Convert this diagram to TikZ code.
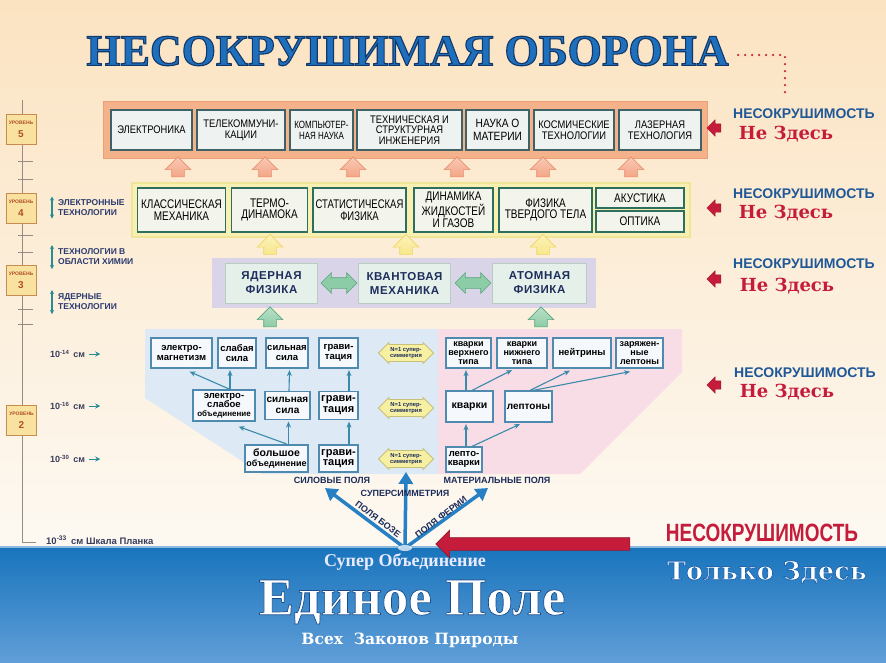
\documentclass[tikz,border=0pt]{standalone}
\usepackage{fontspec}
\setmainfont{Liberation Serif}
\setsansfont{Liberation Sans}
\newfontfamily\narA[FakeStretch=0.85]{Liberation Sans}
\newfontfamily\narB[FakeStretch=0.8]{Liberation Sans}
\newfontfamily\narC[FakeStretch=0.76]{Liberation Sans}
\newfontfamily\spc[LetterSpace=5]{Liberation Sans}
\newfontfamily\dvs{DejaVu Serif}
\usetikzlibrary{shapes.arrows,arrows.meta,calc}
\newcommand\outlinetext[2]{\special{pdf:literal direct 2 Tr #1}#2\special{pdf:literal direct 0 Tr}}
\definecolor{bgtop}{RGB}{251,227,193}
\definecolor{bgbot}{RGB}{253,249,242}
\definecolor{bandtop}{RGB}{24,116,188}
\definecolor{bandbot}{RGB}{96,158,216}
\definecolor{titleblue}{RGB}{30,112,188}
\definecolor{dotred}{RGB}{200,40,50}
\definecolor{f5fill}{RGB}{243,178,138}
\definecolor{f5edge}{RGB}{236,160,120}
\definecolor{b5edge}{RGB}{62,98,102}
\definecolor{b5fill}{RGB}{238,242,240}
\definecolor{f4fill}{RGB}{248,240,178}
\definecolor{f4edge}{RGB}{240,228,150}
\definecolor{b4edge}{RGB}{46,110,94}
\definecolor{b4fill}{RGB}{243,245,236}
\definecolor{f3fill}{RGB}{218,212,232}
\definecolor{b3fill}{RGB}{229,240,234}
\definecolor{b3edge}{RGB}{184,204,194}
\definecolor{b3text}{RGB}{30,46,92}
\definecolor{leftreg}{RGB}{221,233,245}
\definecolor{rightreg}{RGB}{249,221,230}
\definecolor{bledge}{RGB}{80,138,174}
\definecolor{connc}{RGB}{58,138,170}
\definecolor{nfill}{RGB}{247,239,162}
\definecolor{nedge}{RGB}{200,192,120}
\definecolor{fanblue}{RGB}{40,128,196}
\definecolor{navy}{RGB}{28,44,90}
\definecolor{nesblue}{RGB}{30,88,152}
\definecolor{nered}{RGB}{196,28,58}
\definecolor{oarrow}{RGB}{244,166,134}
\definecolor{oarrowedge}{RGB}{232,140,110}
\definecolor{yarrow}{RGB}{248,232,140}
\definecolor{yarrowedge}{RGB}{238,214,100}
\definecolor{garrow}{RGB}{140,204,166}
\definecolor{garrowedge}{RGB}{90,166,126}
\definecolor{lvlfill}{RGB}{249,226,160}
\definecolor{lvledge}{RGB}{200,140,80}
\definecolor{lvltext}{RGB}{176,80,40}
\definecolor{scalegray}{RGB}{150,140,130}
\definecolor{techtext}{RGB}{44,60,112}
\definecolor{tealarrow}{RGB}{40,140,150}
\definecolor{scaletext}{RGB}{58,62,92}
\tikzset{
 b5/.style={draw=b5edge, line width=1.5, fill=b5fill, inner sep=0.5, align=center,
   font=\narA\fontsize{11}{11}\selectfont, text=black},
 b4/.style={draw=b4edge, line width=1.5, fill=b4fill, inner sep=0.5, align=center,
   font=\narB\fontsize{12.5}{11.5}\selectfont, text=black},
 b3/.style={draw=b3edge, line width=1, fill=b3fill, inner sep=0.5, align=center,
   font=\spc\bfseries\fontsize{11.5}{14}\selectfont, text=b3text},
 bl/.style={draw=bledge, line width=1.2, fill=white!70!leftreg, inner sep=0.5, align=center,
   font=\sffamily\bfseries\fontsize{9.5}{9.5}\selectfont, text=black},
 conn/.style={draw=connc, line width=1.1, -{Stealth[length=6pt,width=5pt]}},
 nsym/.style={double arrow, draw=nedge, fill=nfill, line width=0.8, minimum height=55,
   minimum width=21, double arrow head extend=1.5, inner sep=0.5, align=center,
   font=\sffamily\bfseries\fontsize{5.8}{6}\selectfont, text=navy},
 fanarr/.style={draw=fanblue, line width=3.5, -{Triangle[length=12pt,width=14pt]}},
 fanlbl/.style={font=\sffamily\bfseries\fontsize{9}{9}\selectfont, text=navy, inner sep=0.5},
 blockup/.style={single arrow, shape border rotate=90, minimum height=20, minimum width=25,
   single arrow head extend=6.5, single arrow head indent=0, inner sep=6, line width=0.6},
 oarr/.style={blockup, top color=oarrow!60!white, bottom color=oarrow, draw=oarrowedge},
 yarr/.style={blockup, top color=yarrow!60!white, bottom color=yarrow, draw=yarrowedge},
 garr/.style={blockup, top color=garrow!60!white, bottom color=garrow, draw=garrowedge},
 gdarr/.style={double arrow, minimum height=36, minimum width=20, double arrow head extend=5,
   inner sep=5, fill=garrow, draw=garrowedge, line width=0.6},
 sred/.style={single arrow, shape border rotate=180, minimum height=14, minimum width=16,
   single arrow head extend=4, inner sep=4, fill=nered, draw=nered!80!black, line width=0.4},
 nes/.style={font=\sffamily\bfseries\fontsize{14}{14}\selectfont, text=nesblue, inner sep=0},
 nez/.style={font=\dvs\bfseries\fontsize{18}{18}\selectfont, text=nered, inner sep=0},
 lvl/.style={draw=lvledge, fill=lvlfill, line width=0.7, minimum width=30, minimum height=30,
   inner sep=0, align=center, font=\sffamily\bfseries, text=lvltext},
 tech/.style={font=\sffamily\bfseries\fontsize{8.5}{10}\selectfont, text=techtext, align=left,
   inner sep=0, anchor=west},
 techarr/.style={draw=tealarrow, line width=1.1, {Stealth[length=4pt,width=4pt]}-{Stealth[length=4pt,width=4pt]}},
 scl/.style={font=\sffamily\bfseries\fontsize{9}{9}\selectfont, text=scaletext, inner sep=0, anchor=west},
 sarr/.style={draw=tealarrow, line width=1, -{Stealth[length=5pt,width=5pt]}},
 scaleline/.style={draw=scalegray, line width=0.6},
 tzs/.style={font=\dvs\bfseries\fontsize{25.5}{25.5}\selectfont, inner sep=0},
}
\begin{document}
\begin{tikzpicture}[x=1pt,y=-1pt]
\useasboundingbox (0,0) rectangle (886,662);
% background
\fill[top color=bgtop, bottom color=bgbot] (0,0) rectangle (886,547);
\fill[top color=bandtop, bottom color=bandbot] (0,546) rectangle (886,662);
\draw[white, opacity=0.5, line width=2] (0,547) -- (886,547);

% title
\node[font=\bfseries\fontsize{44}{44}\selectfont, text=titleblue] (title) at (407.5,51)
  {\outlinetext{1.1 w 0.07 0.22 0.42 RG}{НЕСОКРУШИМАЯ ОБОРОНА}};
\coordinate (dA) at (785,55);
\coordinate (dB) at (785,97);
\draw[dotred, line width=2.6, dash pattern=on 0pt off 7pt, line cap=round] ($(title.east)+(6,4)$) -- (dA) -- (dB);

% left scale
\draw[scaleline] (22,100) -- (22,542) -- (36,542);
\foreach \t in {161,179,235,252,309,324} \draw[scaleline] (18,\t) -- (33,\t);
\node[lvl] (lv5) at (21,129) {{\fontsize{5}{5}\selectfont УРОВЕНЬ}\\[1pt]{\fontsize{10}{10}\selectfont 5}};
\node[lvl] (lv4) at (21,208) {{\fontsize{5}{5}\selectfont УРОВЕНЬ}\\[1pt]{\fontsize{10}{10}\selectfont 4}};
\node[lvl] (lv3) at (21,280) {{\fontsize{5}{5}\selectfont УРОВЕНЬ}\\[1pt]{\fontsize{10}{10}\selectfont 3}};
\node[lvl] (lv2) at (21.5,420) {{\fontsize{5}{5}\selectfont УРОВЕНЬ}\\[1pt]{\fontsize{10}{10}\selectfont 2}};

\node[tech] (t1) at (58,207.5) {ЭЛЕКТРОННЫЕ\\ТЕХНОЛОГИИ};
\node[tech] (t2) at (58,257) {ТЕХНОЛОГИИ В\\ОБЛАСТИ ХИМИИ};
\node[tech] (t3) at (58,302) {ЯДЕРНЫЕ\\ТЕХНОЛОГИИ};
\draw[techarr] ($(t1.west)+(-6,-11)$) -- ($(t1.west)+(-6,11)$);
\draw[techarr] ($(t2.west)+(-6,-12)$) -- ($(t2.west)+(-6,12)$);
\draw[techarr] ($(t3.west)+(-6,-12)$) -- ($(t3.west)+(-6,12)$);

\node[scl] (s14) at (50,354) {10\textsuperscript{-14}\, см};
\node[scl] (s16) at (50,406) {10\textsuperscript{-16}\, см};
\node[scl] (s30) at (50,459) {10\textsuperscript{-30}\, см};
\node[scl, font=\sffamily\bfseries\fontsize{9.5}{9.5}\selectfont] (s33) at (46,540) {10\textsuperscript{-33}\, см Шкала Планка};
\draw[sarr] ($(s14.east)+(4,0)$) -- ++(11,0);
\draw[sarr] ($(s16.east)+(4,0)$) -- ++(11,0);
\draw[sarr] ($(s30.east)+(4,0)$) -- ++(11,0);

% level 5
\draw[fill=f5fill, draw=f5edge, line width=1] (103,101) rectangle (707,158);
\node[b5, minimum width=81, minimum height=40] (e1) at (151.5,130) {ЭЛЕКТРОНИКА};
\node[b5, minimum width=88, minimum height=40] (e2) at (241,130) {ТЕЛЕКОММУНИ-\\КАЦИИ};
\node[b5, minimum width=63, minimum height=40, font=\narC\fontsize{10.5}{11}\selectfont] (e3) at (321.5,130) {КОМПЬЮТЕР-\\НАЯ НАУКА};
\node[b5, minimum width=105, minimum height=40, font=\narA\fontsize{11}{10.5}\selectfont] (e4) at (409.5,130) {ТЕХНИЧЕСКАЯ И\\СТРУКТУРНАЯ\\ИНЖЕНЕРИЯ};
\node[b5, minimum width=63, minimum height=40, font=\narA\fontsize{12}{12.5}\selectfont] (e5) at (497.5,130) {НАУКА О\\МАТЕРИИ};
\node[b5, minimum width=80, minimum height=40] (e6) at (574,130) {КОСМИЧЕСКИЕ\\ТЕХНОЛОГИИ};
\node[b5, minimum width=82, minimum height=40] (e7) at (660,130) {ЛАЗЕРНАЯ\\ТЕХНОЛОГИЯ};

% orange arrows
\node[oarr] (o1) at (178,170) {};
\node[oarr] (o2) at (265,170) {};
\node[oarr] (o3) at (353,170) {};
\node[oarr] (o4) at (457,170) {};
\node[oarr] (o5) at (543,170) {};
\node[oarr] (o6) at (631,170) {};

% level 4
\draw[fill=f4fill, draw=f4edge, line width=1.5] (132,183) rectangle (690,237);
\node[b4, minimum width=88, minimum height=44] (c1) at (181.5,210) {КЛАССИЧЕСКАЯ\\МЕХАНИКА};
\node[b4, minimum width=76, minimum height=44] (c2) at (269.5,210) {ТЕРМО-\\ДИНАМОКА};
\node[b4, minimum width=93, minimum height=44, font=\narC\fontsize{12.5}{11.5}\selectfont] (c3) at (359.5,210) {СТАТИСТИЧЕСКАЯ\\ФИЗИКА};
\node[b4, minimum width=79, minimum height=44, font=\narB\fontsize{12.5}{10}\selectfont] (c4) at (453.5,210) {ДИНАМИКА\\ЖИДКОСТЕЙ\\И ГАЗОВ};
\node[b4, minimum width=93, minimum height=44] (c5) at (545.5,210) {ФИЗИКА\\ТВЕРДОГО ТЕЛА};
\node[b4, minimum width=88, minimum height=20] (c6) at (640,198) {АКУСТИКА};
\node[b4, minimum width=88, minimum height=21] (c7) at (640,221.5) {ОПТИКА};

% yellow arrows
\node[yarr] (y1) at (270,247.5) {};
\node[yarr] (y2) at (406,247.5) {};
\node[yarr] (y3) at (543,247.5) {};

% level 3
\fill[f3fill] (212,258) rectangle (596,308);
\node[b3, minimum width=92, minimum height=40] (p1) at (271.5,283) {ЯДЕРНАЯ\\ФИЗИКА};
\node[b3, minimum width=92, minimum height=40] (p2) at (404.5,283) {КВАНТОВАЯ\\МЕХАНИКА};
\node[b3, minimum width=94, minimum height=40] (p3) at (539.5,283) {АТОМНАЯ\\ФИЗИКА};
\node[gdarr] (d1) at (339,283) {};
\node[gdarr] (d2) at (473,283) {};

% green arrows
\node[garr] (g1) at (270,320) {};
\node[garr] (g2) at (541,320) {};

% lower regions
\fill[leftreg] (145,329) -- (438,329) -- (438,474) -- (262,474) -- (145,398) -- cycle;
\fill[rightreg] (438,329) -- (682,329) -- (682,372) -- (580,474) -- (438,474) -- cycle;

% forces
\node[bl, minimum width=61, minimum height=30] (em) at (181.5,353) {электро-\\магнетизм};
\node[bl, minimum width=38, minimum height=30] (ws) at (237,353) {слабая\\сила};
\node[bl, minimum width=42, minimum height=30] (ss1) at (287,353) {сильная\\сила};
\node[bl, minimum width=39, minimum height=30] (gr1) at (338.5,353) {грави-\\тация};
\node[bl, minimum width=62, minimum height=31, font=\sffamily\bfseries\fontsize{9.5}{9}\selectfont] (ew) at (224,405.5) {электро-\\слабое\\{\fontsize{8}{8}\selectfont объединение}};
\node[bl, minimum width=45, minimum height=28, font=\sffamily\bfseries\fontsize{10}{10.5}\selectfont] (ss2) at (287.5,405.5) {сильная\\сила};
\node[bl, minimum width=39, minimum height=28, font=\sffamily\bfseries\fontsize{11}{11}\selectfont] (gr2) at (338.5,405.5) {грави-\\тация};
\node[bl, minimum width=63, minimum height=27, font=\sffamily\bfseries\fontsize{10.5}{10}\selectfont] (gu) at (276.5,458.5) {большое\\{\fontsize{9}{9}\selectfont объединение}};
\node[bl, minimum width=39, minimum height=27, font=\sffamily\bfseries\fontsize{11}{10.5}\selectfont] (gr3) at (338.5,458.5) {грави-\\тация};

\node[nsym] (sa1) at (406,353) {N=1 супер-\\симметрия};
\node[nsym] (sa2) at (406,408) {N=1 супер-\\симметрия};
\node[nsym] (sa3) at (406,459) {N=1 супер-\\симметрия};

% matter
\node[bl, minimum width=45, minimum height=30, font=\sffamily\bfseries\fontsize{9}{8.8}\selectfont] (qu) at (468.5,353) {кварки\\верхнего\\типа};
\node[bl, minimum width=50, minimum height=30, font=\sffamily\bfseries\fontsize{9}{8.8}\selectfont] (qd) at (522,353) {кварки\\нижнего\\типа};
\node[bl, minimum width=58, minimum height=30] (nu) at (582,353) {нейтрины};
\node[bl, minimum width=47, minimum height=30, font=\sffamily\bfseries\fontsize{9}{8.8}\selectfont] (cl) at (639.5,353) {заряжен-\\ные\\лептоны};
\node[bl, minimum width=47, minimum height=31, font=\sffamily\bfseries\fontsize{10.5}{10.5}\selectfont] (q) at (469.5,406.5) {кварки};
\node[bl, minimum width=47, minimum height=31, font=\sffamily\bfseries\fontsize{10}{10}\selectfont] (l) at (528.5,406.5) {лептоны};
\node[bl, minimum width=36, minimum height=25, font=\sffamily\bfseries\fontsize{9.5}{9.5}\selectfont] (lq) at (464,459.5) {лепто-\\кварки};

% connectors, forces
\draw[conn] ($(ew.north)+(6,0)$) -- ($(em.south)+(8,3)$);
\draw[conn] ($(ew.north)+(6,0)$) -- ($(ws.south)+(-7,1.5)$);
\draw[conn] ($(ss2.north)+(1.5,0)$) -- ($(ss1.south)+(2.5,1.5)$);
\draw[conn] ($(gr2.north)+(10.5,0)$) -- ($(gr1.south)+(10.5,1.5)$);
\draw[conn] ($(gu.north)+(12,0)$) -- ($(ss2.south)+(1,1.5)$);
\draw[conn] ($(gu.north)+(10,-0.5)$) -- ($(ew.south east)+(-17,5)$);
\draw[conn] ($(gr3.north)+(10.5,0)$) -- ($(gr2.south)+(10.5,1.5)$);
% connectors, matter
\draw[conn] ($(q.north)+(-3.5,0)$) -- ($(qu.south)+(-2.5,1.5)$);
\draw[conn] ($(q.north)+(2.5,0)$) -- ($(qd.south)+(-10,1.5)$);
\draw[conn] ($(l.north)+(1.5,0)$) -- ($(nu.south)+(-12,2)$);
\draw[conn] ($(l.north)+(4.5,0)$) -- ($(cl.south)+(-9.5,3)$);
\draw[conn] ($(lq.north)+(2,0)$) -- ($(q.south)+(-3.5,1.5)$);
\draw[conn] ($(lq.north)+(8,0)$) -- ($(l.south)+(-8.5,1.5)$);

% fan
\coordinate (fan) at (405,548);
\coordinate (fanL) at (325,488);
\coordinate (fanR) at (488,488);
\draw[fanarr] (fan) -- (fanL);
\draw[fanarr] (fan) -- ($(sa3.south)+(0,4)$);
\draw[fanarr] (fan) -- (fanR);
\fill[white, opacity=0.7] (fan) ellipse (7 and 3);
\node[fanlbl] (lsp) at (332,480) {СИЛОВЫЕ ПОЛЯ};
\node[fanlbl] (lmp) at (497,480) {МАТЕРИАЛЬНЫЕ ПОЛЯ};
\node[fanlbl] (lss) at (405,493) {СУПЕРСИММЕТРИЯ};
\node[fanlbl, rotate=-37] (lbz) at (378,519) {ПОЛЯ БОЗЕ};
\node[fanlbl, rotate=37] (lfm) at (441,517) {ПОЛЯ ФЕРМИ};

% big red arrow
\node[single arrow, shape border rotate=180, fill=nered, draw=nered!75!black, line width=0.6,
  minimum height=194, minimum width=27, single arrow head extend=7.5, inner sep=6] (bigred) at (536,544) {};

% right labels
\node[nes] (n1) at (804,114) {НЕСОКРУШИМОСТЬ};
\node[nez] (z1) at (786,134) {Не Здесь};
\node[sred] (r1) at (716,128) {};
\node[nes] (n2) at (804,194) {НЕСОКРУШИМОСТЬ};
\node[nez] (z2) at (786,213) {Не Здесь};
\node[sred] (r2) at (716,208) {};
\node[nes] (n3) at (804,264) {НЕСОКРУШИМОСТЬ};
\node[nez] (z3) at (787,286) {Не Здесь};
\node[sred] (r3) at (716,279) {};
\node[nes] (n4) at (805,373) {НЕСОКРУШИМОСТЬ};
\node[nez] (z4) at (787,392) {Не Здесь};
\node[sred] (r4) at (716,385) {};

\node[font=\narC\bfseries\fontsize{25}{25}\selectfont, text=nered, inner sep=0] (nb) at (762,533) {НЕСОКРУШИМОСТЬ};
\node[tzs, text=white] (tz) at (767,572) {\outlinetext{0.8 w 0.12 0.40 0.70 RG}{Только Здесь}};

% band texts
\node[font=\bfseries\fontsize{18}{18}\selectfont, text=white!92!blue, inner sep=0] (so) at (405,562) {Супер Объединение};
\node[font=\bfseries\fontsize{53}{53}\selectfont, text=white, inner sep=0] (ep) at (412,602)
  {\outlinetext{0.7 w 0.10 0.30 0.55 RG}{Единое Поле}};
\node[font=\dvs\bfseries\fontsize{15.5}{15.5}\selectfont, text=white, inner sep=0] (vz) at (410,640) {Всех\ \ Законов Природы};
\end{tikzpicture}
\end{document}
